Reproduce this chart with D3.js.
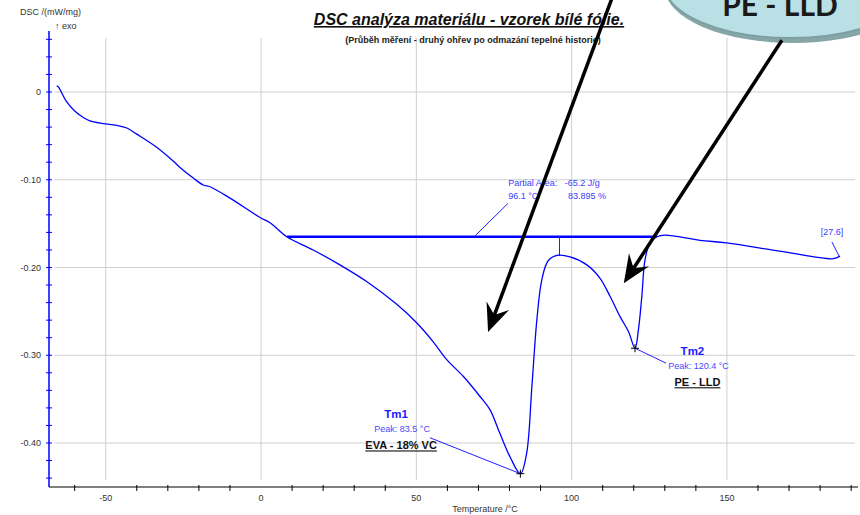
<!DOCTYPE html>
<html>
<head>
<meta charset="utf-8">
<script src="https://cdn.jsdelivr.net/npm/d3@7"></script>
<style>
  body { margin: 0; background: #fff; }
  svg { display: block; font-family: "Liberation Sans", Arial, sans-serif; }
</style>
</head>
<body>
<div id="chart"></div>
<script>
// DSC curve (temperature in °C, DSC in mW/mg)
var temps = [-65.8, -65.3, -62.6, -59.9, -57.2, -55.1, -50.8, -46.5, -43.2, -40.0,
  -33.6, -28.2, -26.1, -21.8, -18.6, -16.4, -10.0, -0.3, 2.9, 8.3,
  16.8, 25.4, 34.0, 43.7, 50.1, 55.5, 59.8, 65.1, 70.5, 73.7,
  76.9, 80.2, 83.5, 85.5, 87.2, 88.8, 90.4, 92.5, 95.7, 99.5,
  104.9, 109.1, 112.4, 115.6, 118.3, 120.4, 121.5, 122.6, 123.6, 125.2,
  127.4, 130.1, 141.3, 149.9, 168.1, 184.2, 186.4];
var dsc = [0.007, 0.006, -0.011, -0.022, -0.029, -0.033, -0.036, -0.038, -0.041, -0.048,
  -0.063, -0.079, -0.086, -0.098, -0.106, -0.108, -0.121, -0.143, -0.149, -0.165,
  -0.180, -0.197, -0.216, -0.242, -0.263, -0.285, -0.305, -0.324, -0.347, -0.362,
  -0.389, -0.416, -0.435, -0.412, -0.336, -0.260, -0.214, -0.192, -0.186, -0.188,
  -0.197, -0.212, -0.233, -0.256, -0.273, -0.292, -0.271, -0.233, -0.192, -0.172,
  -0.165, -0.163, -0.169, -0.172, -0.182, -0.190, -0.187];

var xTicks = [-50, 0, 50, 100, 150];
var yTicks = [0, -0.1, -0.2, -0.3, -0.4];
var yTickLabels = ["0", "-0.10", "-0.20", "-0.30", "-0.40"];

var peakNames = ["Tm1", "Tm2"];
var peakTemps = [83.5, 120.4];
var peakDsc = [-0.435, -0.292];
var peakMaterials = ["EVA - 18% VC", "PE - LLD"];

// partial area evaluation
var baseTemps = [8.4, 127.4];
var baseDsc = -0.165;
var splitTemp = 96.1;
var splitDsc = -0.187;
var areaText = ["Partial Area:", "-65.2 J/g", "96.1 °C", "83.895 %"];

var width = 860, height = 515;

var svg = d3.select("#chart").append("svg")
  .attr("width", width)
  .attr("height", height);

var x = d3.scaleLinear().domain([-68.26, 192.2]).range([49, 858]);
var y = d3.scaleLinear().domain([0, -0.4]).range([92, 443]);

// grid
svg.append("g").selectAll("line")
  .data(yTicks)
  .enter().append("line")
  .attr("x1", 55).attr("x2", 855)
  .attr("y1", function (d) { return y(d); })
  .attr("y2", function (d) { return y(d); })
  .attr("stroke", "#cfcfcf").attr("stroke-width", 1);

svg.append("g").selectAll("line")
  .data(xTicks)
  .enter().append("line")
  .attr("x1", function (d) { return x(d); })
  .attr("x2", function (d) { return x(d); })
  .attr("y1", 38).attr("y2", 480)
  .attr("stroke", "#cfcfcf").attr("stroke-width", 1);

// x axis
var xAxis = svg.append("g");
xAxis.append("line")
  .attr("x1", 49).attr("x2", 858)
  .attr("y1", 487).attr("y2", 487)
  .attr("stroke", "#000").attr("stroke-width", 1);
xAxis.selectAll(".minor")
  .data(d3.range(-60, 191, 10).filter(function (d) { return d % 50 !== 0; }))
  .enter().append("line")
  .attr("x1", function (d) { return x(d); })
  .attr("x2", function (d) { return x(d); })
  .attr("y1", 485).attr("y2", 491)
  .attr("stroke", "#000");
xAxis.selectAll("text")
  .data(xTicks)
  .enter().append("text")
  .attr("x", function (d) { return x(d); })
  .attr("y", 501)
  .attr("text-anchor", "middle")
  .attr("font-size", 9)
  .attr("fill", "#333")
  .text(function (d) { return d; });
svg.append("text")
  .attr("x", 485).attr("y", 512)
  .attr("text-anchor", "middle")
  .attr("font-size", 9)
  .attr("fill", "#333")
  .text("Temperature /°C");

// y axis
var yAxis = svg.append("g");
yAxis.append("line")
  .attr("x1", 49).attr("x2", 49)
  .attr("y1", 31).attr("y2", 487)
  .attr("stroke", "#0000ff").attr("stroke-width", 1.5);
yAxis.selectAll(".minor")
  .data(d3.range(-22, 4).map(function (i) { return i * 0.02; }))
  .enter().append("line")
  .attr("x1", 46).attr("x2", 52)
  .attr("y1", function (d) { return y(d); })
  .attr("y2", function (d) { return y(d); })
  .attr("stroke", "#0000ff").attr("stroke-width", 1);
yAxis.selectAll("text")
  .data(yTicks)
  .enter().append("text")
  .attr("x", 41)
  .attr("y", function (d) { return y(d) + 3; })
  .attr("text-anchor", "end")
  .attr("font-size", 9)
  .attr("fill", "#333")
  .text(function (d, i) { return yTickLabels[i]; });
svg.append("text")
  .attr("x", 20).attr("y", 15)
  .attr("font-size", 9).attr("fill", "#333")
  .text("DSC /(mW/mg)");
svg.append("text")
  .attr("x", 55).attr("y", 29)
  .attr("font-size", 9).attr("fill", "#333")
  .text("↑ exo");

// titles
svg.append("text")
  .attr("x", 469).attr("y", 25)
  .attr("text-anchor", "middle")
  .attr("font-size", 16)
  .attr("font-weight", "bold")
  .attr("font-style", "italic")
  .attr("text-decoration", "underline")
  .attr("fill", "#111")
  .text("DSC analýza materiálu - vzorek bílé fólie.");
svg.append("text")
  .attr("x", 473).attr("y", 43)
  .attr("text-anchor", "middle")
  .attr("font-size", 9)
  .attr("font-weight", "bold")
  .attr("fill", "#222")
  .text("(Průběh měření - druhý ohřev po odmazání tepelné historie)");

// baseline of the partial area
svg.append("line")
  .attr("x1", x(baseTemps[0])).attr("x2", x(baseTemps[1]))
  .attr("y1", y(baseDsc)).attr("y2", y(baseDsc))
  .attr("stroke", "#0000ff").attr("stroke-width", 2.5);
svg.append("line")
  .attr("x1", x(splitTemp)).attr("x2", x(splitTemp))
  .attr("y1", y(baseDsc)).attr("y2", y(splitDsc))
  .attr("stroke", "#2020ff").attr("stroke-width", 1);

// DSC curve
var line = d3.line()
  .x(function (d) { return x(d[0]); })
  .y(function (d) { return y(d[1]); })
  .curve(d3.curveCatmullRom.alpha(0.5));
svg.append("path")
  .datum(d3.zip(temps, dsc))
  .attr("d", line)
  .attr("fill", "none")
  .attr("stroke", "#0000ff")
  .attr("stroke-width", 1.3);

// partial area label
svg.append("line")
  .attr("x1", x(68.6)).attr("y1", y(baseDsc))
  .attr("x2", x(79.5)).attr("y2", y(-0.127))
  .attr("stroke", "#2020ff").attr("stroke-width", 1);
var areaG = svg.append("g").attr("font-size", 9).attr("fill", "#4040ff");
areaG.append("text").attr("x", x(79.6)).attr("y", y(-0.107)).text(areaText[0]);
areaG.append("text").attr("x", x(97.8)).attr("y", y(-0.107)).text(areaText[1]);
areaG.append("text").attr("x", x(79.6)).attr("y", y(-0.122)).text(areaText[2]);
areaG.append("text").attr("x", x(98.8)).attr("y", y(-0.122)).text(areaText[3]);

// peaks
var leaderEnds = [[54.4, -0.394], [130.4, -0.309]];
var labelPos = [[43.5, -0.372], [138.9, -0.300]];
peakTemps.forEach(function (t, i) {
  var px = x(t), py = y(peakDsc[i]);
  svg.append("line")
    .attr("x1", px).attr("y1", py)
    .attr("x2", x(leaderEnds[i][0])).attr("y2", y(leaderEnds[i][1]))
    .attr("stroke", "#2020ff").attr("stroke-width", 1);
  svg.append("path")
    .attr("d", "M" + (px - 4) + "," + py + "H" + (px + 4) + "M" + px + "," + (py - 4) + "V" + (py + 4))
    .attr("stroke", "#000").attr("stroke-width", 1);
  var lx = x(labelPos[i][0]), ly = y(labelPos[i][1]);
  svg.append("text")
    .attr("x", lx).attr("y", ly)
    .attr("text-anchor", "middle")
    .attr("font-size", 11.5).attr("font-weight", "bold")
    .attr("fill", "#1a1aff")
    .text(peakNames[i]);
  svg.append("text")
    .attr("x", lx + 6).attr("y", ly + 14)
    .attr("text-anchor", "middle")
    .attr("font-size", 9).attr("fill", "#4848ff")
    .text("Peak: " + t.toFixed(1) + " °C");
  svg.append("text")
    .attr("x", lx + 5).attr("y", ly + 31)
    .attr("text-anchor", "middle")
    .attr("font-size", 11).attr("font-weight", "bold")
    .attr("text-decoration", "underline")
    .attr("fill", "#111")
    .text(peakMaterials[i]);
});

// end marker
svg.append("line")
  .attr("x1", x(183.8)).attr("y1", y(-0.171))
  .attr("x2", x(186.1)).attr("y2", y(-0.187))
  .attr("stroke", "#2020ff").attr("stroke-width", 1);
svg.append("text")
  .attr("x", x(183.8)).attr("y", y(-0.163))
  .attr("text-anchor", "middle")
  .attr("font-size", 9).attr("fill", "#4040ff")
  .text("[27.6]");

// callout bubble
var bubble = svg.append("g");
bubble.append("ellipse")
  .attr("cx", 793).attr("cy", -12)
  .attr("rx", 128).attr("ry", 55)
  .attr("fill", "#86a6a8");
bubble.append("ellipse")
  .attr("cx", 790).attr("cy", -16)
  .attr("rx", 126).attr("ry", 54)
  .attr("fill", "#b9e1e5")
  .attr("stroke", "#7d9fa2").attr("stroke-width", 2);
bubble.append("text")
  .attr("x", 780).attr("y", 16)
  .attr("text-anchor", "middle")
  .attr("font-family", "Lato, 'Open Sans', sans-serif")
  .attr("font-size", 30).attr("font-weight", "bold")
  .attr("fill", "#1a1a1a")
  .text("PE - LLD");

// black arrows (start -> tip, in data units)
var arrows = [
  [[113.0, 0.107], [73.1, -0.2735]],
  [[167.7, 0.059], [116.8, -0.218]]
];
arrows.forEach(function (a) {
  var x0 = x(a[0][0]), y0 = y(a[0][1]), x1 = x(a[1][0]), y1 = y(a[1][1]);
  var ang = Math.atan2(y1 - y0, x1 - x0);
  var len = 28, half = 12, notch = 18;
  var ux = Math.cos(ang), uy = Math.sin(ang);
  var bx = x1 - ux * len, by = y1 - uy * len;
  var nx = x1 - ux * notch, ny = y1 - uy * notch;
  svg.append("line")
    .attr("x1", x0).attr("y1", y0)
    .attr("x2", nx).attr("y2", ny)
    .attr("stroke", "#000").attr("stroke-width", 3.5);
  svg.append("path")
    .attr("d", "M" + x1 + "," + y1 +
      "L" + (bx - uy * half) + "," + (by + ux * half) +
      "L" + nx + "," + ny +
      "L" + (bx + uy * half) + "," + (by - ux * half) + "Z")
    .attr("fill", "#000");
});
</script>
</body>
</html>
